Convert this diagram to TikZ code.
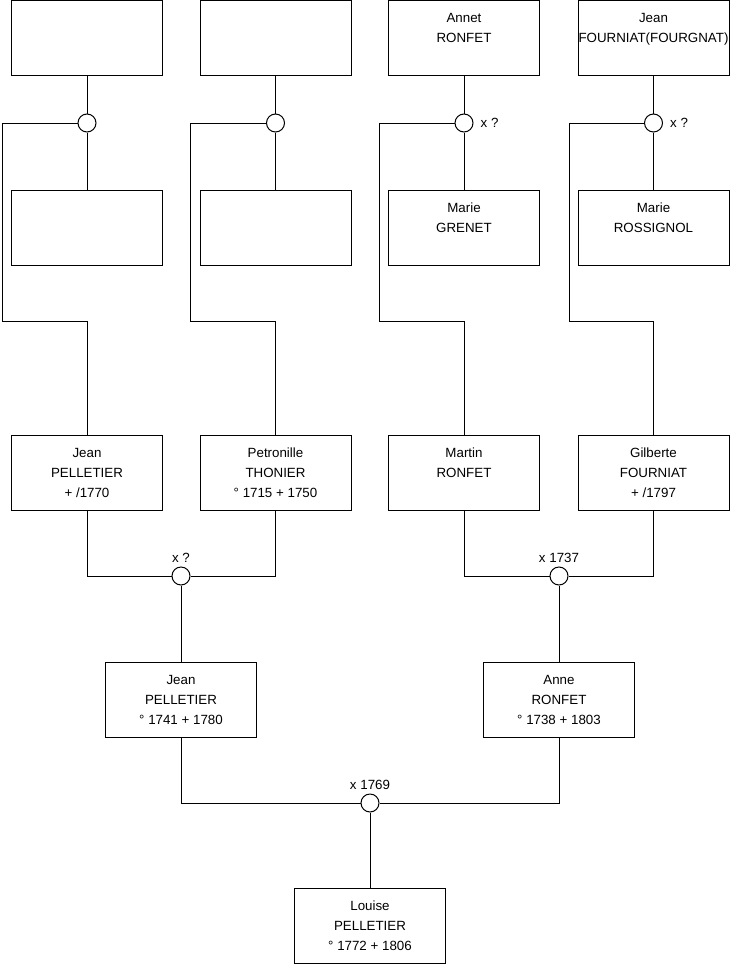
\documentclass[tikz,border=0pt]{standalone}
\usepackage{fontspec}
\setmainfont{Liberation Sans}
\usetikzlibrary{positioning}

\begin{document}
\begin{tikzpicture}[x=0.75pt,y=-0.75pt,line width=0.75pt,
  person/.style={draw,minimum width=113.25pt,minimum height=56.25pt,inner sep=0pt,
    align=center,font=\fontsize{10}{15}\selectfont},
  union/.style={draw,circle,fill=white,minimum size=13.5pt,inner sep=0pt},
  date/.style={font=\fontsize{10}{12}\selectfont,inner sep=1pt}]
  \useasboundingbox (0,0) rectangle (740,975);

  \node[person] (a1) at (87,38) {};
  \node[person] (a2) at (275.5,38) {};
  \node[person] (a3) at (464,38) {Annet\\RONFET\\\mbox{}};
  \node[person] (a4) at (653.5,38) {Jean\\FOURNIAT(FOURGNAT)\\\mbox{}};

  \node[union] (u1) at (87,123) {};
  \node[union] (u2) at (275.5,123) {};
  \node[union] (u3) at (464,123) {};
  \node[union] (u4) at (653.5,123) {};
  \node[date,right=4pt of u3] (l3) {x ?};
  \node[date,right=4pt of u4] (l4) {x ?};

  \node[person] (b1) at (87,227.5) {};
  \node[person] (b2) at (275.5,227.5) {};
  \node[person] (b3) at (464,227.5) {Marie\\GRENET\\\mbox{}};
  \node[person] (b4) at (653.5,227.5) {Marie\\ROSSIGNOL\\\mbox{}};

  \node[person] (p1) at (87,472.5) {Jean\\PELLETIER\\+ /1770};
  \node[person] (p2) at (275.5,472.5) {Petronille\\THONIER\\° 1715 + 1750};
  \node[person] (p3) at (464,472.5) {Martin\\RONFET\\\mbox{}};
  \node[person] (p4) at (653.5,472.5) {Gilberte\\FOURNIAT\\+ /1797};

  \node[union] (v1) at (181,576) {};
  \node[union] (v2) at (559,576) {};
  \node[date,above=1.5pt of v1] (k1) {x ?};
  \node[date,above=1.5pt of v2] (k2) {x 1737};

  \node[person] (g1) at (181,699.5) {Jean\\PELLETIER\\° 1741 + 1780};
  \node[person] (g2) at (559,699.5) {Anne\\RONFET\\° 1738 + 1803};

  \node[union] (w) at (370,803) {};
  \node[date,above=1.5pt of w] (kw) {x 1769};

  \node[person] (c) at (370,925.5) {Louise\\PELLETIER\\° 1772 + 1806};

  \draw (a1) -- (u1) -- (b1);
  \draw (a2) -- (u2) -- (b2);
  \draw (a3) -- (u3) -- (b3);
  \draw (a4) -- (u4) -- (b4);
  \draw (u1.west) -| (2,321) -| (p1.north);
  \draw (u2.west) -| (190,321) -| (p2.north);
  \draw (u3.west) -| (379,321) -| (p3.north);
  \draw (u4.west) -| (569,321) -| (p4.north);

  \draw (p1.south) |- (v1.west);
  \draw (p2.south) |- (v1.east);
  \draw (p3.south) |- (v2.west);
  \draw (p4.south) |- (v2.east);
  \draw (v1) -- (g1);
  \draw (v2) -- (g2);

  \draw (g1.south) |- (w.west);
  \draw (g2.south) |- (w.east);
  \draw (w) -- (c);
\end{tikzpicture}
\end{document}
